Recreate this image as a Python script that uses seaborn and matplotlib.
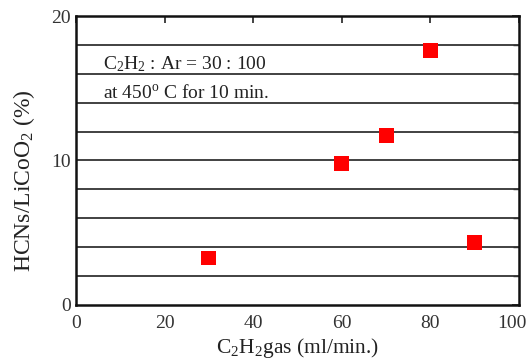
import matplotlib
matplotlib.use("Agg")
import matplotlib.pyplot as plt
import matplotlib.transforms as mtransforms
import seaborn as sns
import pandas as pd

gas_flow = [30, 60, 70, 80, 90]
yield_pct = [3.25, 9.8, 11.7, 17.6, 4.35]
x_ticks = [0, 20, 40, 60, 80, 100]
y_ticks = [0, 10, 20]
grid_levels = [2, 4, 6, 8, 10, 12, 14, 16, 18]

sns.set_theme(style="white")
plt.rcParams['font.family'] = ['Liberation Serif', 'DejaVu Serif']
plt.rcParams['mathtext.fontset'] = 'custom'
plt.rcParams['mathtext.rm'] = 'Liberation Serif'
plt.rcParams['mathtext.it'] = 'Liberation Serif'

df = pd.DataFrame({"x": gas_flow, "y": yield_pct})

fig = plt.figure(figsize=(5.26, 3.62), dpi=100)
ax = fig.add_axes([0.1445, 0.1575, 0.8422, 0.7983])

for g in grid_levels:
    ax.axhline(g, color="#333333", lw=1.3, zorder=1)

sns.scatterplot(data=df, x="x", y="y", marker="s", color="#ff0000",
                s=115, edgecolor="none", ax=ax, zorder=3)

ax.set_xlim(0, 100)
ax.set_ylim(0, 20)
ax.set_xticks(x_ticks)
ax.set_yticks(y_ticks)
ax.tick_params(axis="both", direction="in", length=5, width=1.2, labelsize=14,
               colors="#222222", top=True, right=True, labelcolor="#333333")
ax.tick_params(axis="x", pad=7)
ax.set_yticks(grid_levels, minor=True)
ax.tick_params(axis="y", which="minor", direction="in", length=4, right=True, left=False)
for sp in ax.spines.values():
    sp.set_color("#111111")
    sp.set_linewidth(1.8)

# shift the last x tick label a little left so it stays inside the figure
fig.canvas.draw()
for lab in ax.get_xticklabels():
    if lab.get_text() == "100":
        lab.set_transform(lab.get_transform() +
                          mtransforms.ScaledTranslation(-7 / 100, 0, fig.dpi_scale_trans))

ax.set_xlabel(r"C$_2$H$_2$gas (ml/min.)", fontsize=15.5, color="#222222", labelpad=3)
ax.set_ylabel(r"HCNs/LiCoO$_2$ (%)", fontsize=17, color="#222222")
ax.yaxis.set_label_coords(-0.088, 0.43)

ax.text(6.1, 16.33, r"C$_2$H$_2$ : Ar = 30 : 100", fontsize=14, color="#222222",
        va="baseline", ha="left")
ax.text(6.1, 14.33, r"at 450$^{\rm o}$ C for 10 min.", fontsize=14, color="#222222",
        va="baseline", ha="left")

fig.savefig("out.png", dpi=100)
